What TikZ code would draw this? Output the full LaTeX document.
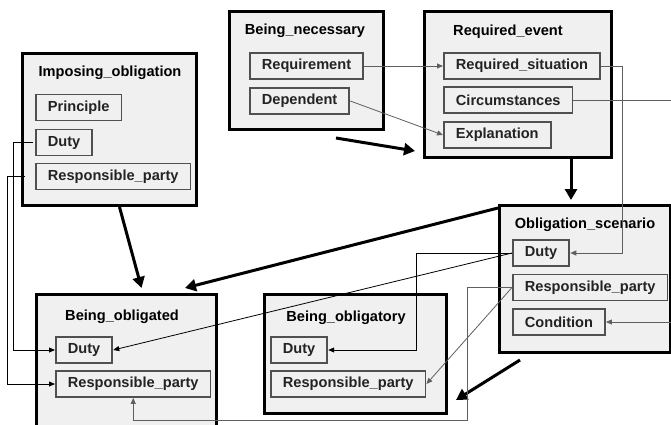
\documentclass[tikz,border=0pt]{standalone}
\usepackage{fontspec}
\setmainfont{Liberation Sans}
\usepackage{xcolor}
\usetikzlibrary{
    arrows.meta,
    positioning,
    calc
  }
\definecolor{framefill}{RGB}{240,240,240}
\definecolor{slotline}{RGB}{80,80,80}
\definecolor{linkgray}{RGB}{95,95,95}
\definecolor{slottext}{RGB}{35,35,35}
\tikzset{
  frame/.style={draw=black,line width=3pt,fill=framefill,anchor=north west,inner sep=0pt},
  frametitle/.style={inner sep=0pt,text=black,font=\bfseries\fontsize{14.6}{17}\selectfont},
  slot/.style={draw=slotline,line width=1.8pt,fill=framefill,anchor=west,
    minimum height=26pt,inner xsep=12pt,inner ysep=0pt,text=slottext,
    font=\bfseries\fontsize{14.6}{17}\selectfont},
  relation/.style={draw=black,line width=3pt,-{Triangle[length=11pt,width=12pt]}},
  link/.style={draw=black,line width=0.8pt,-{Triangle[length=6pt,width=5pt]}},
  graylink/.style={link,draw=linkgray}
}

\begin{document}
\begin{tikzpicture}[x=1pt, y=-1pt]

\path[use as bounding box,clip] (0,0) rectangle (671,425);
\path[fill=white] (0,0) rectangle (671,425);

\path[] (21,52) node[frame,minimum width=174pt,minimum height=152pt] (frame_imposing) {};
\path[] (110,73) node[frametitle] (label_imposing) {Imposing\_obligation};
\path[] (35,107.5) node[slot] (slot_imposing_principle) {Principle};
\path[] (35,142.5) node[slot] (slot_imposing_duty) {Duty};
\path[] (35,176.5) node[slot] (slot_imposing_party) {Responsible\_party};

\path[] (228,10) node[frame,minimum width=154pt,minimum height=118pt] (frame_necessary) {};
\path[] (305,31) node[frametitle] (label_necessary) {Being\_necessary};
\path[] (249,66) node[slot] (slot_necessary_requirement) {Requirement};
\path[] (249,101) node[slot] (slot_necessary_dependent) {Dependent};

\path[] (423,10) node[frame,minimum width=187pt,minimum height=146pt] (frame_required) {};
\path[] (508,32) node[frametitle] (label_required) {Required\_event};
\path[] (443,66) node[slot] (slot_required_situation) {Required\_situation};
\path[] (443,100) node[slot] (slot_required_circumstances) {Circumstances};
\path[] (443,135) node[slot] (slot_required_explanation) {Explanation};

\path[] (498,204) node[frame,minimum width=171pt,minimum height=147pt] (frame_scenario) {};
\path[] (585,225) node[frametitle] (label_scenario) {Obligation\_scenario};
\path[] (512,253) node[slot] (slot_scenario_duty) {Duty};
\path[] (512,287.5) node[slot] (slot_scenario_party) {Responsible\_party};
\path[] (512,322) node[slot] (slot_scenario_condition) {Condition};

\path[] (35,293) node[frame,minimum width=180pt,minimum height=150pt] (frame_obligated) {};
\path[] (122,317) node[frametitle] (label_obligated) {Being\_obligated};
\path[] (55,350) node[slot] (slot_obligated_duty) {Duty};
\path[] (55,384) node[slot] (slot_obligated_party) {Responsible\_party};

\path[] (263,293) node[frame,minimum width=182pt,minimum height=119pt] (frame_obligatory) {};
\path[] (346,318) node[frametitle] (label_obligatory) {Being\_obligatory};
\path[] (270,350) node[slot] (slot_obligatory_duty) {Duty};
\path[] (270,384) node[slot] (slot_obligatory_party) {Responsible\_party};

\path[relation]
  ($(frame_necessary.south east)+(-49,7)$) -- ($(frame_required.south west)+(-8,-8)$)
;
\path[relation]
  ($(frame_required.south east)+(-42,0)$) -- ++(0,41)
;
\path[relation]
  ($(frame_imposing.south)+(10,0)$) -- ($(frame_obligated.north)+(15,-5)$)
;
\path[relation]
  ($(frame_scenario.north west)+(0,4)$) -- ($(frame_obligated.north east)+(-33,-5)$)
;
\path[relation]
  ($(frame_scenario.south west)+(22,6)$) -- ($(frame_obligatory.south east)+(8,-15)$)
;

\path[graylink] (slot_necessary_requirement.east) -- (slot_required_situation.west);
\path[graylink] (slot_necessary_dependent.east) -- (slot_required_explanation.west);
\path[graylink] (slot_required_situation.east) -- ++(21,0) |- (slot_scenario_duty.east);
\path[graylink] (slot_required_circumstances.east) -- ++(102,0) |- (slot_scenario_condition.east);

\path[link,shorten <=2pt] (slot_imposing_duty.west) -- ++(-22,0) |- (slot_obligated_duty.west);
\path[link,shorten <=10pt] (slot_imposing_party.west) -- ++(-28,0) |- (slot_obligated_party.west);

\path[link] (slot_scenario_duty.west) -- (slot_obligated_duty.east);
\path[link] (slot_scenario_duty.west) -- ++(-96,0) |- (slot_obligatory_duty.east);
\coordinate (bottom_turn) at (467,420);
\path[graylink] (slot_scenario_party.west) -| (bottom_turn) -| (slot_obligated_party.south);
\path[graylink] (slot_scenario_party.west) -- (slot_obligatory_party.east);

\end{tikzpicture}
\end{document}
